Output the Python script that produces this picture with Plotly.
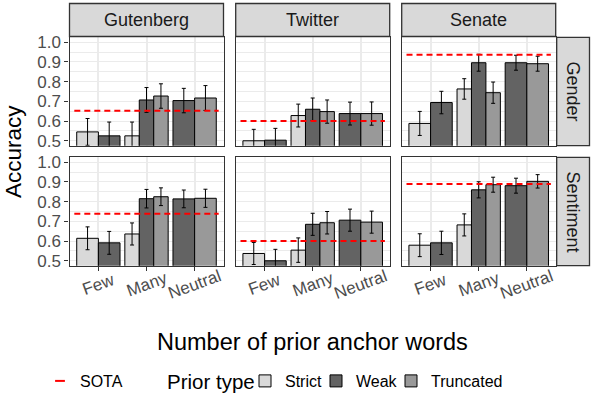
import plotly.graph_objects as go

# facet layout
datasets = ["Gutenberg", "Twitter", "Senate"]
tasks = ["Gender", "Sentiment"]
categories = ["Few", "Many", "Neutral"]
prior_types = ["Strict", "Weak", "Truncated"]

# one entry per bar, same order in every panel
bar_category = ["Few", "Few", "Many", "Many", "Many", "Neutral", "Neutral"]
bar_prior = ["Strict", "Weak", "Strict", "Weak", "Truncated", "Weak", "Truncated"]

# accuracy and error (half width) per panel
gutenberg_gender_acc = [0.545, 0.525, 0.525, 0.707, 0.727, 0.704, 0.717]
gutenberg_gender_err = [0.068, 0.070, 0.070, 0.063, 0.062, 0.062, 0.063]
twitter_gender_acc = [0.500, 0.503, 0.628, 0.660, 0.648, 0.638, 0.638]
twitter_gender_err = [0.058, 0.060, 0.058, 0.057, 0.059, 0.058, 0.059]
senate_gender_acc = [0.588, 0.694, 0.763, 0.896, 0.744, 0.896, 0.891]
senate_gender_err = [0.061, 0.057, 0.052, 0.043, 0.054, 0.038, 0.038]
gutenberg_sentiment_acc = [0.614, 0.591, 0.636, 0.815, 0.825, 0.814, 0.817]
gutenberg_sentiment_err = [0.058, 0.058, 0.056, 0.047, 0.045, 0.045, 0.046]
twitter_sentiment_acc = [0.537, 0.500, 0.554, 0.685, 0.693, 0.706, 0.696]
twitter_sentiment_err = [0.056, 0.058, 0.062, 0.056, 0.057, 0.056, 0.056]
senate_sentiment_acc = [0.579, 0.591, 0.682, 0.860, 0.886, 0.881, 0.903]
senate_sentiment_err = [0.058, 0.059, 0.056, 0.041, 0.038, 0.038, 0.034]

# state of the art per dataset
sota_gender = [0.652, 0.600, 0.936]
sota_sentiment = [0.738, 0.600, 0.890]

y_ticks = [0.5, 0.6, 0.7, 0.8, 0.9, 1.0]
y_tick_labels = ["0.5", "0.6", "0.7", "0.8", "0.9", "1.0"]

panels = {
    ("Gender", "Gutenberg"): (gutenberg_gender_acc, gutenberg_gender_err),
    ("Gender", "Twitter"): (twitter_gender_acc, twitter_gender_err),
    ("Gender", "Senate"): (senate_gender_acc, senate_gender_err),
    ("Sentiment", "Gutenberg"): (gutenberg_sentiment_acc, gutenberg_sentiment_err),
    ("Sentiment", "Twitter"): (twitter_sentiment_acc, twitter_sentiment_err),
    ("Sentiment", "Senate"): (senate_sentiment_acc, senate_sentiment_err),
}
sota = {"Gender": sota_gender, "Sentiment": sota_sentiment}

fill = {"Strict": "#D9D9D9", "Weak": "#636363", "Truncated": "#999999"}

W, H = 592, 396
FONT = "Liberation Sans, Arial, sans-serif"
col_px = [(69.5, 223.5), (235.7, 389.7), (401.7, 555.7)]
row_px = [(37.3, 145.7), (157.3, 265.7)]
# one legend box per prior type, so the entries can sit as tight as ggplot's
legend_ids = {"Strict": "legend2", "Weak": "legend3", "Truncated": "legend4"}
legend_x_px = {"Strict": 245, "Weak": 316, "Truncated": 391}


def px_x(v):
    return v / W


def px_y(v):
    return 1 - v / H


# position_dodge: bars share 0.9 of each category slot
bar_x, bar_w = [], []
for i, cat in enumerate(bar_category):
    members = [j for j, c in enumerate(bar_category) if c == cat]
    n = len(members)
    w = 0.9 / n
    k = members.index(i)
    bar_x.append(categories.index(cat) + 1 + (k - (n - 1) / 2) * w)
    bar_w.append(w)

fig = go.Figure()
shapes, annotations = [], []

for r, task in enumerate(tasks):
    for c, ds in enumerate(datasets):
        idx = r * 3 + c + 1
        xa = "x" if idx == 1 else f"x{idx}"
        ya = "y" if idx == 1 else f"y{idx}"
        acc, err = panels[(task, ds)]

        for p in prior_types:
            sel = [i for i, bp in enumerate(bar_prior) if bp == p]
            fig.add_trace(go.Bar(
                x=[bar_x[i] for i in sel],
                y=[acc[i] for i in sel],
                width=[bar_w[i] for i in sel],
                error_y=dict(type="data", array=[err[i] for i in sel],
                             color="black", thickness=1, width=2),
                marker=dict(color=fill[p], line=dict(color="black", width=1)),
                name=p, legendgroup=p, legend=legend_ids[p],
                showlegend=(idx == 1), xaxis=xa, yaxis=ya,
            ))

        s = sota[task][c]
        fig.add_trace(go.Scatter(
            x=[0.5, len(categories) + 0.5], y=[s, s], mode="lines",
            line=dict(color="red", width=2, dash="6px,4px"),
            showlegend=False, hoverinfo="skip", xaxis=xa, yaxis=ya,
        ))

        x0, x1 = col_px[c]
        y0, y1 = row_px[r]
        bottom = r == len(tasks) - 1
        left = c == 0
        fig.update_layout(**{
            ("xaxis" if idx == 1 else f"xaxis{idx}"): dict(
                domain=[px_x(x0), px_x(x1)], anchor=ya, range=[0.4, 3.6],
                tickvals=[1, 2, 3], showticklabels=False, automargin=False,
                ticks="outside" if bottom else "", ticklen=4, tickcolor="#333333",
                showgrid=True, gridcolor="#EBEBEB", gridwidth=1.6,
                showline=True, mirror=True, linecolor="#333333", linewidth=1.3,
                zeroline=False,
            ),
            ("yaxis" if idx == 1 else f"yaxis{idx}"): dict(
                domain=[px_y(y1), px_y(y0)], anchor=xa, range=[0.475, 1.025],
                tickvals=y_ticks, ticktext=y_tick_labels, showticklabels=left,
                automargin=False,
                ticks="outside" if left else "", ticklen=4, tickcolor="#333333",
                tickfont=dict(family=FONT, size=17, color="#4D4D4D"),
                showgrid=True, gridcolor="#EBEBEB", gridwidth=1.4,
                minor=dict(dtick=0.05, tick0=0.45, showgrid=True,
                           gridcolor="#EBEBEB", gridwidth=0.8),
                showline=True, mirror=True, linecolor="#333333", linewidth=1.3,
                zeroline=False,
            ),
        })

        # x category labels, rotated and centred under each tick
        if bottom:
            for k, cat in enumerate(categories):
                annotations.append(dict(
                    x=k + 1, y=px_y(284), xref=xa, yref="paper", text=cat,
                    xanchor="center", yanchor="middle",
                    showarrow=False, textangle=-20,
                    font=dict(family=FONT, size=17, color="#4D4D4D"),
                ))

# strips on top
for c, ds in enumerate(datasets):
    x0, x1 = col_px[c]
    shapes.append(dict(type="rect", xref="paper", yref="paper",
                       x0=px_x(x0), x1=px_x(x1), y0=px_y(36.5), y1=px_y(3.5),
                       fillcolor="#D9D9D9", line=dict(color="#333333", width=1.3)))
    annotations.append(dict(x=px_x((x0 + x1) / 2), y=px_y(20), xref="paper", yref="paper",
                            xanchor="center", yanchor="middle",
                            text=ds, showarrow=False,
                            font=dict(family=FONT, size=18, color="#1A1A1A")))

# strips on the right
for r, task in enumerate(tasks):
    y0, y1 = row_px[r]
    shapes.append(dict(type="rect", xref="paper", yref="paper",
                       x0=px_x(556.7), x1=px_x(589.5), y0=px_y(y1), y1=px_y(y0),
                       fillcolor="#D9D9D9", line=dict(color="#333333", width=1.3)))
    annotations.append(dict(x=px_x(573), y=px_y((y0 + y1) / 2), xref="paper", yref="paper",
                            xanchor="center", yanchor="middle",
                            text=task, showarrow=False, textangle=90,
                            font=dict(family=FONT, size=18, color="#1A1A1A")))

# axis titles
annotations.append(dict(x=px_x(13), y=px_y(152), xref="paper", yref="paper",
                        xanchor="center", yanchor="middle",
                        text="Accuracy", showarrow=False, textangle=-90,
                        font=dict(family=FONT, size=22.5, color="black")))
annotations.append(dict(x=px_x(312.5), y=px_y(342), xref="paper", yref="paper",
                        xanchor="center", yanchor="middle",
                        text="Number of prior anchor words", showarrow=False,
                        font=dict(family=FONT, size=23.5, color="black")))
# legend title for the fill legend
annotations.append(dict(x=px_x(165), y=px_y(381), xref="paper", yref="paper",
                        xanchor="left", yanchor="middle",
                        text="Prior type", showarrow=False,
                        font=dict(family=FONT, size=20.5, color="black")))

# legend entry for the SOTA line
fig.add_trace(go.Scatter(
    x=[None], y=[None], mode="markers", name="SOTA", legend="legend",
    marker=dict(symbol="line-ew", size=7, line=dict(color="red", width=2)),
))

legend_style = dict(orientation="h", xref="container", yref="container",
                    xanchor="left", y=px_y(381), yanchor="middle",
                    font=dict(family=FONT, size=16, color="black"),
                    bgcolor="rgba(0,0,0,0)")
legends = {"legend": dict(legend_style, x=px_x(40))}
for p in prior_types:
    legends[legend_ids[p]] = dict(legend_style, x=px_x(legend_x_px[p]))

fig.update_layout(
    template="none",
    width=W, height=H, autosize=False,
    margin=dict(l=0, r=0, t=0, b=0, autoexpand=False),
    paper_bgcolor="white", plot_bgcolor="white",
    barmode="overlay",
    font=dict(family=FONT, color="black"),
    shapes=shapes, annotations=annotations,
    **legends,
)

# drop the browser's default body margin so the figure sits at the page corner
fig.write_html("out.html", config={"displayModeBar": False},
               post_script="document.body.style.margin='0';")
